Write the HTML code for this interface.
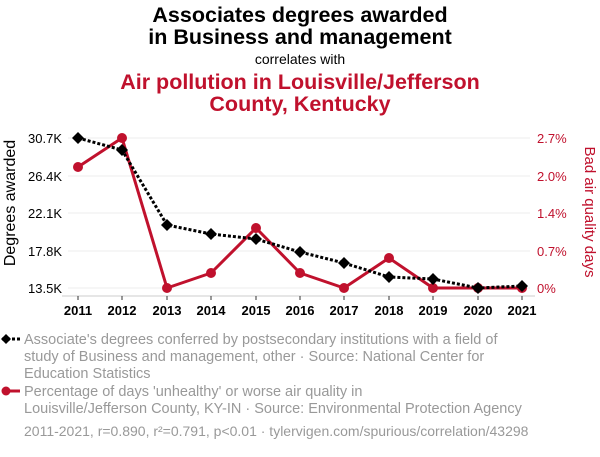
<!DOCTYPE html>
<html><head><style>
body{margin:0;background:#fff;width:600px;height:452px;overflow:hidden;font-family:"Liberation Sans",sans-serif}
</style></head><body>
<svg width="600" height="452" xmlns="http://www.w3.org/2000/svg" font-family="Liberation Sans, sans-serif">
<text x="300" y="22" text-anchor="middle" font-size="21.5" font-weight="bold">Associates degrees awarded</text>
<text x="300" y="44" text-anchor="middle" font-size="21.5" font-weight="bold">in Business and management</text>
<text x="300" y="64" text-anchor="middle" font-size="14">correlates with</text>
<text x="300" y="89" text-anchor="middle" font-size="21.5" font-weight="bold" fill="#c0112d">Air pollution in Louisville/Jefferson</text>
<text x="300" y="111" text-anchor="middle" font-size="21.5" font-weight="bold" fill="#c0112d">County, Kentucky</text>
<g stroke="#eee" stroke-width="1">
<line x1="68" x2="530" y1="138" y2="138"/><line x1="68" x2="530" y1="176" y2="176"/><line x1="68" x2="530" y1="213" y2="213"/><line x1="68" x2="530" y1="251" y2="251"/><line x1="68" x2="530" y1="288" y2="288"/>
</g>
<line x1="62" x2="535" y1="296" y2="296" stroke="#ccc"/>
<g stroke="#333"><line x1="78" x2="78" y1="296" y2="300"/><line x1="122" x2="122" y1="296" y2="300"/><line x1="167" x2="167" y1="296" y2="300"/><line x1="211" x2="211" y1="296" y2="300"/><line x1="256" x2="256" y1="296" y2="300"/><line x1="300" x2="300" y1="296" y2="300"/><line x1="344" x2="344" y1="296" y2="300"/><line x1="389" x2="389" y1="296" y2="300"/><line x1="433" x2="433" y1="296" y2="300"/><line x1="478" x2="478" y1="296" y2="300"/><line x1="522" x2="522" y1="296" y2="300"/></g>
<g font-size="13" font-weight="bold" text-anchor="middle">
<text x="78" y="315">2011</text><text x="122" y="315">2012</text><text x="167" y="315">2013</text><text x="211" y="315">2014</text><text x="256" y="315">2015</text><text x="300" y="315">2016</text><text x="344" y="315">2017</text><text x="389" y="315">2018</text><text x="433" y="315">2019</text><text x="478" y="315">2020</text><text x="522" y="315">2021</text>
</g>
<g font-size="13" text-anchor="end">
<text x="62" y="143">30.7K</text><text x="62" y="181">26.4K</text><text x="62" y="218">22.1K</text><text x="62" y="256">17.8K</text><text x="62" y="293">13.5K</text>
</g>
<g font-size="13" fill="#c0112d">
<text x="537" y="143">2.7%</text><text x="537" y="181">2.0%</text><text x="537" y="218">1.4%</text><text x="537" y="256">0.7%</text><text x="537" y="293">0%</text>
</g>
<text transform="translate(15,203) rotate(-90)" text-anchor="middle" font-size="16">Degrees awarded</text>
<text transform="translate(585,212) rotate(90)" text-anchor="middle" font-size="15">
<tspan fill="#c0112d">Bad air quality days</tspan></text>
<polyline fill="none" stroke="#c0112d" stroke-width="3" points="78,167 122,138 167,288 211,273 256,228 300,273 344,288 389,258 433,288 478,288 522,288"/>
<g fill="#c0112d"><circle cx="78" cy="167" r="5"/><circle cx="122" cy="138" r="5"/><circle cx="167" cy="288" r="5"/><circle cx="211" cy="273" r="5"/><circle cx="256" cy="228" r="5"/><circle cx="300" cy="273" r="5"/><circle cx="344" cy="288" r="5"/><circle cx="389" cy="258" r="5"/><circle cx="433" cy="288" r="5"/><circle cx="478" cy="288" r="5"/><circle cx="522" cy="288" r="5"/></g>
<polyline fill="none" stroke="#000" stroke-width="3" stroke-dasharray="3,2" points="78,138 122,150 167,225 211,234 256,239 300,252 344,263 389,277 433,279 478,288 522,286"/>
<g fill="#000">
<path d="M78,132l6,6-6,6-6-6z"/><path d="M122,144l6,6-6,6-6-6z"/><path d="M167,219l6,6-6,6-6-6z"/><path d="M211,228l6,6-6,6-6-6z"/><path d="M256,233l6,6-6,6-6-6z"/><path d="M300,246l6,6-6,6-6-6z"/><path d="M344,257l6,6-6,6-6-6z"/><path d="M389,271l6,6-6,6-6-6z"/><path d="M433,273l6,6-6,6-6-6z"/><path d="M478,282l6,6-6,6-6-6z"/><path d="M522,280l6,6-6,6-6-6z"/>
</g>
<line x1="2" x2="20" y1="339" y2="339" stroke="#000" stroke-width="3" stroke-dasharray="3,2"/>
<path d="M6,334l5,5-5,5-5-5z" fill="#000"/>
<g font-size="14.5" fill="#999">
<text x="24" y="344">Associate's degrees conferred by postsecondary institutions with a field of</text>
<text x="24" y="361">study of Business and management, other · Source: National Center for</text>
<text x="24" y="378">Education Statistics</text>
<text x="24" y="396">Percentage of days 'unhealthy' or worse air quality in</text>
<text x="24" y="413">Louisville/Jefferson County, KY-IN · Source: Environmental Protection Agency</text>
<text x="24" y="436" font-size="14">2011-2021, r=0.890, r²=0.791, p&lt;0.01 · tylervigen.com/spurious/correlation/43298</text>
</g>
<line x1="2" x2="20" y1="391" y2="391" stroke="#c0112d" stroke-width="3"/>
<circle cx="6" cy="391" r="4.5" fill="#c0112d"/>
</svg>
</body></html>
